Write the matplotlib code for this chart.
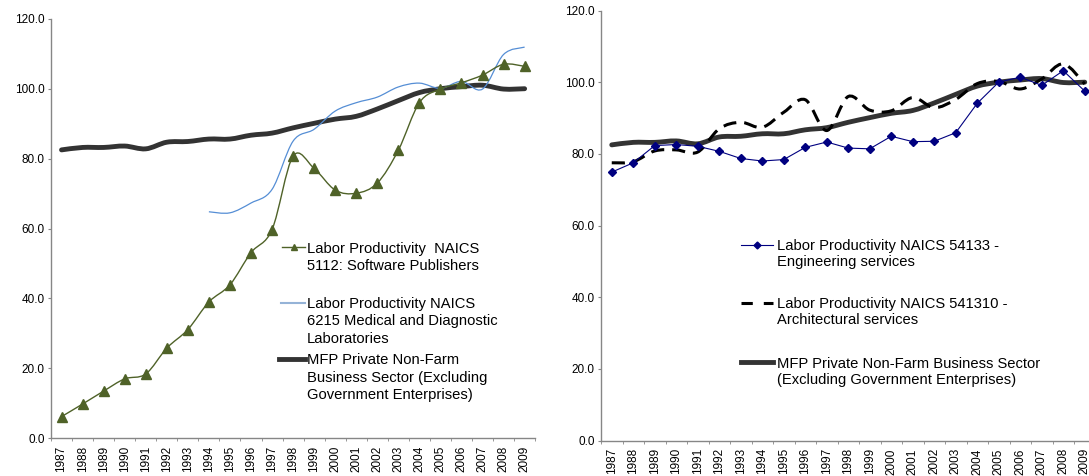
import numpy as np
import matplotlib.pyplot as plt
from matplotlib.path import Path
from matplotlib.patches import PathPatch
from matplotlib.lines import Line2D

plt.rcParams['font.family'] = ['Liberation Sans', 'DejaVu Sans']

years = list(range(1987, 2010))
year_labels = [str(y) for y in years]

# left chart
software = [6.2, 9.8, 13.5, 17.0, 18.4, 25.8, 31.1, 39.0, 43.9, 53.1, 59.7, 80.7,
            77.2, 71.0, 70.1, 73.0, 82.4, 96.0, 99.9, 101.7, 103.9, 107.0, 106.4]
medical_years = list(range(1994, 2010))
medical = [64.8, 64.5, 67.3, 71.2, 85.0, 88.4, 93.6, 96.0, 97.6, 100.5, 101.6,
           100.1, 102.1, 99.9, 109.8, 111.9]
mfp = [82.5, 83.2, 83.2, 83.6, 82.8, 84.7, 84.9, 85.6, 85.6, 86.7, 87.3, 88.8,
       90.1, 91.3, 92.1, 94.2, 96.6, 98.9, 100.0, 100.6, 101.0, 99.9, 100.0]

# right chart
engineering = [74.9, 77.5, 82.3, 82.6, 82.1, 80.7, 78.7, 78.0, 78.4, 81.8, 83.3, 81.6,
               81.4, 84.9, 83.4, 83.5, 85.9, 94.1, 100.0, 101.4, 99.1, 103.2, 97.5]
architectural = [77.5, 77.8, 80.8, 81.1, 80.5, 87.0, 88.8, 87.4, 91.6, 95.1, 86.5, 96.0,
                 92.2, 92.0, 95.7, 92.9, 95.2, 99.6, 100.2, 98.1, 100.9, 105.1, 99.5]

yticks = [0, 20, 40, 60, 80, 100, 120]

labels_left = [
    ["Labor Productivity  NAICS", "5112: Software Publishers"],
    ["Labor Productivity NAICS", "6215 Medical and Diagnostic", "Laboratories"],
    ["MFP Private Non-Farm", "Business Sector (Excluding", "Government Enterprises)"],
]
labels_right = [
    ["Labor Productivity NAICS 54133 -", "Engineering services"],
    ["Labor Productivity NAICS 541310 -", "Architectural services"],
    ["MFP Private Non-Farm Business Sector", "(Excluding Government Enterprises)"],
]

W, H = 1089, 476
GREEN = '#4F6228'
LBLUE = '#558ED5'
DARK = '#333333'
NAVY = '#000080'
AXIS = '#868686'
DASH = (0, (4.3, 2.6))


def smooth_path(xs, ys):
    pts = np.column_stack([xs, ys]).astype(float)
    n = len(pts)
    verts = [pts[0]]
    codes = [Path.MOVETO]
    for i in range(n - 1):
        p0 = pts[max(i - 1, 0)]
        p1 = pts[i]
        p2 = pts[i + 1]
        p3 = pts[min(i + 2, n - 1)]
        verts += [p1 + (p2 - p0) / 6, p2 - (p3 - p1) / 6, p2]
        codes += [Path.CURVE4] * 3
    return Path(verts, codes)


def smooth_line(ax, xs, ys, **kw):
    ax.add_patch(PathPatch(smooth_path(xs, ys), fill=False, **kw))


def style_axes(ax):
    ax.set_xlim(years[0] - 0.5, years[-1] + 0.5)
    ax.set_ylim(0, 120)
    ax.set_xticks(years)
    ax.set_xticklabels(year_labels, rotation=90, fontsize=8.5)
    ax.set_xticks(np.arange(years[0] - 0.5, years[-1] + 1), minor=True)
    ax.tick_params(axis='x', which='major', length=0, pad=5.5)
    ax.tick_params(axis='x', which='minor', length=2.5, color=AXIS)
    ax.set_yticks(yticks)
    ax.set_yticklabels([f"{v:.1f}" for v in yticks], fontsize=8.5)
    ax.tick_params(axis='y', length=2.5, color=AXIS, pad=2)
    for s in ['top', 'right']:
        ax.spines[s].set_visible(False)
    for s in ['left', 'bottom']:
        ax.spines[s].set_color(AXIS)
        ax.spines[s].set_linewidth(1)


def px(x, y):
    return x / W, 1 - y / H


def legend_entry(fig, x0, x1, y, lines, tx, spacing, **kw):
    marker = kw.pop('marker', None)
    ms = kw.pop('markersize', 0)
    mc = kw.pop('mcolor', None)
    (a, b), (c, _) = px(x0, y), px(x1, y)
    fig.add_artist(Line2D([a, c], [b, b], transform=fig.transFigure, **kw))
    if marker:
        fig.add_artist(Line2D([(a + c) / 2], [b], transform=fig.transFigure,
                              marker=marker, markersize=ms, color=mc, linestyle='none'))
    for k, line in enumerate(lines):
        fx, fy = px(tx, y + k * spacing)
        fig.text(fx, fy, line, fontsize=10.6, va='center_baseline', ha='left', color='black')


fig = plt.figure(figsize=(W / 100, H / 100), dpi=100)

ax1 = fig.add_axes([51 / W, (H - 438.3) / H, 23 * 21.05 / W, (438.3 - 18.8) / H])
style_axes(ax1)
smooth_line(ax1, years, mfp, edgecolor=DARK, linewidth=3.5, capstyle='round', zorder=2)
smooth_line(ax1, medical_years, medical, edgecolor=LBLUE, linewidth=0.9, zorder=3)
smooth_line(ax1, years, software, edgecolor=GREEN, linewidth=1.0, zorder=4)
ax1.plot(years, software, linestyle='none', marker='^', markersize=6.5, color=GREEN, zorder=5)

ax2 = fig.add_axes([601 / W, (H - 440.5) / H, 23 * 21.5 / W, (440.5 - 10.5) / H])
style_axes(ax2)
smooth_line(ax2, years, mfp, edgecolor=DARK, linewidth=3.5, capstyle='round', zorder=2)
smooth_line(ax2, years, architectural, edgecolor='black', linewidth=2.2,
            linestyle=DASH, capstyle='butt', zorder=3)
ax2.plot(years, engineering, color=NAVY, linewidth=0.8, marker='D', markersize=4.5, zorder=4)

# legends drawn by hand to keep the Excel layout
legend_entry(fig, 282, 305, 247, labels_left[0], 307, 17.3, color=GREEN, linewidth=1.0,
             marker='^', markersize=5, mcolor=GREEN)
legend_entry(fig, 281, 305, 302.5, labels_left[1], 307, 17.3, color='#95B3D7', linewidth=1.5)
legend_entry(fig, 279, 305, 359, labels_left[2], 307, 17.3, color=DARK, linewidth=3.5)

legend_entry(fig, 741, 773, 245, labels_right[0], 777, 15.5, color=NAVY, linewidth=0.8,
             marker='D', markersize=3.5, mcolor=NAVY)
legend_entry(fig, 741, 773, 302.5, labels_right[1], 777, 16.5, color='black', linewidth=2.2,
             linestyle=(0, (3.7, 3.6)))
legend_entry(fig, 741, 773, 362, labels_right[2], 777, 16.5, color=DARK, linewidth=3.5)

fig.savefig('out.png', dpi=100)
